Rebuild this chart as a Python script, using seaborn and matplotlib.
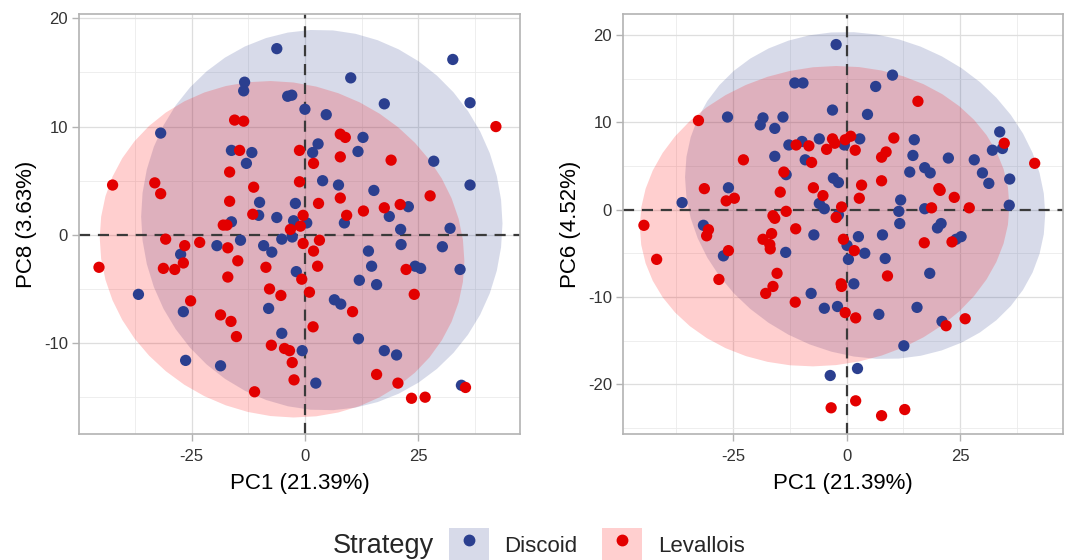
import numpy as np
import pandas as pd
import matplotlib
matplotlib.use("Agg")
import matplotlib.pyplot as plt
import seaborn as sns
from matplotlib.patches import Patch
from matplotlib.lines import Line2D
from matplotlib.legend_handler import HandlerTuple
from matplotlib.ticker import MultipleLocator

# ---------------- data ----------------
strategies = ["Discoid", "Levallois"]

# Panel 1: PC1 vs PC8
p1_discoid_pc1 = [-6.2, 32.6, -13.3, -13.5, 10.1, -3.8, -2.9, 36.4, 17.5, 0.0, 4.7, -31.8, 12.8,
                  -16.2, -11.7, -12.9, 2.9, 1.7, 11.7, 28.4, 3.9, 7.4, 36.4, 15.2, -10.0, -2.1,
                  22.8, 18.6, -10.2, -6.2, -16.2, -2.5, 0.4, 8.7, 21.1, 32.0, -14.2, -5.1, -2.8,
                  -19.4, -9.1, -7.3, -27.4, 14.0, 21.2, 30.3, 14.7, 24.3, 25.5, 34.2, -1.9, 12.0,
                  15.8, -36.7, 6.5, 7.9, -26.8, -8.0, -5.1, 11.8, -0.6, 17.5, 20.2, -26.3, -18.6,
                  2.4, 34.5]
p1_discoid_pc8 = [17.2, 16.2, 14.1, 13.3, 14.5, 12.8, 12.9, 12.2, 12.1, 11.6, 11.1, 9.4, 9.0,
                  7.8, 7.6, 6.6, 8.4, 7.6, 7.7, 6.8, 5.0, 4.6, 4.6, 4.1, 3.0, 2.9,
                  2.6, 1.7, 1.8, 1.6, 1.2, 1.3, 1.1, 1.1, 0.5, 0.6, -0.5, -0.4, -0.2,
                  -1.0, -1.0, -1.6, -1.8, -1.5, -0.9, -1.1, -2.9, -2.9, -3.1, -3.2, -3.4, -4.2,
                  -4.6, -5.5, -6.0, -6.4, -7.1, -6.8, -9.1, -9.6, -10.7, -10.7, -11.1, -11.6, -12.1,
                  -13.7, -13.9]
p1_levallois_pc1 = [-42.4, -33.1, -31.8, -15.5, -13.5, -14.4, -16.6, -1.2, 1.9, -1.2, 7.8, 8.9,
                    7.8, 19.0, 42.1, -11.3, -16.6, -11.5, 3.0, 7.8, 9.2, 12.9, 17.5, 21.0, 27.6,
                    -18.0, -17.2, -0.4, -3.2, -1.0, -30.7, -23.2, 3.2, -0.4, -26.5, -17.0, -14.8,
                    1.9, -26.8, -31.2, -28.7, -45.4, -8.6, 2.8, 22.3, -17.0, -0.7, 1.0, -25.2,
                    -7.8, -5.3, 24.1, 10.5, -18.6, -16.3, -15.1, 1.8, -7.4, -4.5, -3.4, -2.8,
                    -2.4, -11.1, 15.8, 20.5, 23.5, 26.5, 35.4]
p1_levallois_pc8 = [4.6, 4.8, 3.8, 10.6, 10.5, 7.8, 5.8, 7.8, 6.6, 4.9, 9.3, 9.0,
                    7.2, 6.9, 10.0, 4.4, 3.1, 1.9, 2.9, 3.4, 1.8, 2.2, 2.5, 2.8, 3.6,
                    0.9, 0.9, 1.8, 0.5, 0.8, -0.4, -0.7, -0.5, -0.8, -1.0, -1.2, -2.4,
                    -1.5, -2.6, -3.1, -3.2, -3.0, -3.0, -2.9, -3.2, -3.9, -4.1, -5.3, -6.1,
                    -5.0, -5.6, -5.5, -7.1, -7.4, -8.0, -9.4, -8.5, -10.2, -10.5, -10.7, -11.8,
                    -13.4, -14.5, -12.9, -13.7, -15.1, -15.0, -14.1]

# Panel 2: PC1 vs PC6
p2_discoid_pc1 = [-2.3, 10.1, -11.4, -9.6, 6.4, -3.1, 4.6, -26.2, -18.4, -19.0, -14.0, -15.8, 33.7,
                  34.3, 32.1, -12.7, -9.8, -6.0, -0.5, 2.9, 14.9, -15.8, -13.3, -9.1, 14.6, 22.4,
                  28.1, 29.9, 31.3, 35.9, 13.9, 17.2, 18.4, -26.0, -2.9, -1.8, -36.2, -6.0, -4.9,
                  11.9, 11.5, 17.2, 35.8, -31.5, -1.8, 11.7, 20.0, 20.8, 25.2, 24.1, 2.6, 7.9,
                  -7.2, 0.1, 4.0, 0.4, -13.4, -27.1, 8.5, 18.3, 1.6, -7.8, -4.9, -2.0, 7.1,
                  15.5, 21.0, 12.6, 2.4, -3.6]
p2_discoid_pc6 = [18.9, 15.4, 14.5, 14.5, 14.1, 11.4, 10.9, 10.6, 10.5, 9.7, 10.6, 9.3, 8.9,
                  7.0, 6.8, 7.4, 7.8, 8.1, 7.4, 8.1, 8.0, 6.1, 4.0, 5.7, 6.2, 5.9,
                  5.7, 4.2, 3.0, 3.5, 4.3, 4.8, 4.2, 2.5, 3.6, 3.1, 0.8, 0.7, 0.1,
                  1.1, -0.2, 0.1, 0.5, -1.8, -0.6, -1.6, -2.1, -1.6, -3.1, -3.4, -3.1, -2.9,
                  -2.9, -4.1, -5.0, -5.7, -4.9, -5.3, -5.6, -7.3, -8.5, -9.6, -11.3, -11.1, -12.0,
                  -11.2, -12.8, -15.6, -18.2, -19.0]
p2_levallois_pc1 = [-44.6, -32.6, -22.7, -31.3, -26.5, -24.7, -13.8, -14.6, -13.3, -16.2, -15.8,
                    -11.1, -8.3, -7.7, -7.3, -5.2, -4.4, -3.1, -2.6, -0.3, 0.9, 1.9, 10.4, 7.7,
                    8.7, 15.7, 3.3, 2.8, 7.7, -1.1, -2.3, 18.7, 20.3, 20.6, 23.7, 27.0, 34.7,
                    41.4, -11.2, -18.4, -16.9, -16.8, -26.0, -0.7, 1.7, 17.1, 23.2, -30.4, -30.8,
                    -41.8, -15.3, -16.2, -17.8, -28.1, -1.2, -1.1, 9.0, -11.3, -0.3, 2.0, 21.9,
                    26.1, -3.4, 2.0, 7.7, 12.8, -16.5]
p2_levallois_pc6 = [-1.8, 10.2, 5.7, 2.4, 1.0, 1.3, 4.3, 2.0, -0.2, -0.7, -1.0,
                    7.4, 7.3, 5.4, 2.5, 1.6, 6.9, 8.1, 7.6, 8.0, 8.4, 6.8, 8.2, 6.0,
                    6.6, 12.4, 2.8, 1.3, 3.3, 0.3, -0.9, 0.2, 2.4, 2.2, 1.4, 0.2, 7.6,
                    5.3, -2.2, -3.4, -4.0, -4.5, -4.7, -3.4, -4.7, -3.8, -3.7, -2.3, -3.0,
                    -5.7, -7.3, -8.8, -9.6, -8.0, -8.5, -8.8, -7.6, -10.6, -11.8, -12.4, -13.3,
                    -12.5, -22.7, -21.9, -23.6, -22.9, -2.75]

x_label = "PC1 (21.39%)"
y_labels = ["PC8 (3.63%)", "PC6 (4.52%)"]
x_ticks = [-25, 0, 25]
y_ticks = [[-10, 0, 10, 20], [-20, -10, 0, 10, 20]]

# ---------------- style ----------------
sns.set_theme(style="white")
plt.rcParams["font.family"] = ["Liberation Sans", "DejaVu Sans"]
plt.rcParams["axes.unicode_minus"] = False

point_colors = {"Discoid": "#2B3F8F", "Levallois": "#E30000"}
fill_colors = {"Discoid": "#2B3F8F", "Levallois": "#FF0000"}
fill_alpha = 0.19


def make_df(pc1_a, y_a, pc1_b, y_b):
    return pd.concat([
        pd.DataFrame({"PC1": pc1_a, "PCy": y_a, "Strategy": "Discoid"}),
        pd.DataFrame({"PC1": pc1_b, "PCy": y_b, "Strategy": "Levallois"}),
    ], ignore_index=True)


df1 = make_df(p1_discoid_pc1, p1_discoid_pc8, p1_levallois_pc1, p1_levallois_pc8)
df2 = make_df(p2_discoid_pc1, p2_discoid_pc6, p2_levallois_pc1, p2_levallois_pc6)


def cov_trob(X, nu=5, maxit=25, tol=0.01):
    """Multivariate-t robust covariance (as MASS::cov.trob)."""
    n, p = X.shape
    loc = X.mean(axis=0)
    w = np.ones(n)
    for _ in range(maxit):
        w0 = w
        Xc = X - loc
        A = np.sqrt(w / w.sum())[:, None] * Xc
        _, d, vt = np.linalg.svd(A, full_matrices=False)
        wX = Xc @ vt.T @ np.diag(1.0 / d)
        Q = (wX ** 2).sum(axis=1)
        w = (nu + p) / (nu + Q)
        loc = (w[:, None] * X).sum(axis=0) / w.sum()
        if np.all(np.abs(w - w0) < tol):
            break
    Xc = X - loc
    cov = (np.sqrt(w)[:, None] * Xc).T @ (np.sqrt(w)[:, None] * Xc) / n
    return loc, cov


def stat_ellipse(ax, x, y, color, level=0.95, segments=51):
    X = np.column_stack([np.asarray(x, float), np.asarray(y, float)])
    n = len(X)
    center, shape = cov_trob(X)
    dfd = n - 1
    fq = dfd / 2.0 * ((1 - level) ** (-2.0 / dfd) - 1)  # qf(level, 2, dfd)
    radius = np.sqrt(2 * fq)
    t = np.linspace(0, 2 * np.pi, segments)
    circle = np.column_stack([np.cos(t), np.sin(t)])
    chol = np.linalg.cholesky(shape).T  # upper triangular like R chol()
    pts = center + radius * (circle @ chol)
    ax.fill(pts[:, 0], pts[:, 1], facecolor=color, alpha=fill_alpha,
            edgecolor="none", zorder=1)


fig = plt.figure(figsize=(10.65, 5.6), dpi=100)
axes = [fig.add_axes([0.0742, 0.225, 0.414, 0.75]),
        fig.add_axes([0.585, 0.225, 0.413, 0.75])]
xlims = [(-49.8, 47.4), (-49.2, 47.6)]
ylims = [(-18.4, 20.4), (-25.7, 22.4)]

for i, (ax, df) in enumerate(zip(axes, [df1, df2])):
    for s in strategies:
        sub = df[df.Strategy == s]
        stat_ellipse(ax, sub.PC1, sub.PCy, fill_colors[s])
    ax.axhline(0, color="#3a3a3a", lw=1.6, ls=(0, (5, 3.5)), zorder=2)
    ax.axvline(0, color="#3a3a3a", lw=1.6, ls=(0, (5, 3.5)), zorder=2)
    sns.scatterplot(data=df, x="PC1", y="PCy", hue="Strategy", palette=point_colors,
                    hue_order=strategies, s=66, edgecolor="none", linewidth=0,
                    legend=False, ax=ax, zorder=3)
    ax.set_xlim(*xlims[i])
    ax.set_ylim(*ylims[i])
    ax.set_xticks(x_ticks)
    ax.set_yticks(y_ticks[i])
    ax.xaxis.set_minor_locator(MultipleLocator(12.5))
    ax.yaxis.set_minor_locator(MultipleLocator(5))
    ax.grid(True, which="major", color="#DEDEDE", lw=0.9, zorder=0)
    ax.grid(True, which="minor", color="#EBEBEB", lw=0.6, zorder=0)
    ax.set_axisbelow(True)
    for sp in ax.spines.values():
        sp.set_color("#B3B3B3")
        sp.set_linewidth(1.2)
    ax.tick_params(axis="both", which="major", length=5, width=1, color="#B3B3B3",
                   labelsize=12, labelcolor="#333333", bottom=True, left=True)
    ax.tick_params(axis="x", which="major", pad=6)
    ax.tick_params(axis="y", which="major", pad=3)
    ax.tick_params(axis="both", which="minor", length=0)
    ax.set_xlabel(x_label, fontsize=16, color="black", labelpad=6)
    ax.set_ylabel(y_labels[i], fontsize=16, color="black", labelpad=5)

# legend
handles = []
for s in strategies:
    handles.append((Patch(facecolor=fill_colors[s], alpha=fill_alpha, edgecolor="none"),
                    Line2D([], [], marker="o", ls="none", color=point_colors[s], markersize=7.5)))
fig.text(0.3127, 0.025, "Strategy", fontsize=19.5, ha="left", va="center")
fig.legend(handles=handles, labels=strategies, ncol=2, frameon=False,
           loc="center left", bbox_to_anchor=(0.4216, 0.027),
           handler_map={tuple: HandlerTuple(ndivide=1, pad=0)},
           handlelength=1.8, handleheight=1.9, fontsize=16, columnspacing=1.1,
           handletextpad=0.7, borderpad=0, borderaxespad=0)

fig.savefig("out.png", dpi=100)
